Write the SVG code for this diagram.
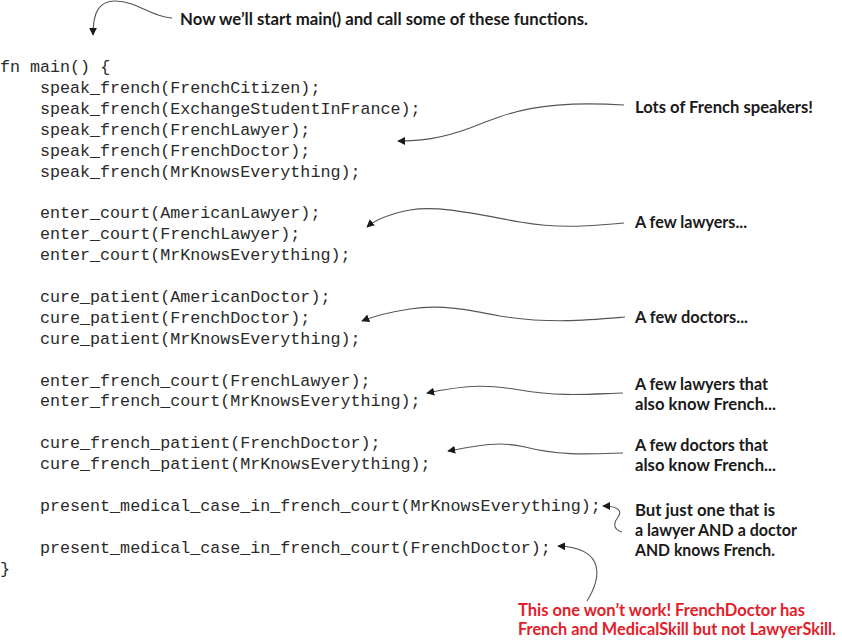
<svg xmlns="http://www.w3.org/2000/svg" width="842" height="644" viewBox="0 0 842 644">
<defs>
<marker id="ah" viewBox="0 0 10 10" refX="9" refY="5" markerWidth="8" markerHeight="8" markerUnits="userSpaceOnUse" orient="auto">
<path d="M0,0 L10,5 L0,10 Z" fill="#1a1a1a"/>
</marker>
<style>
.code{font-family:"Liberation Mono","DejaVu Sans Mono",monospace;font-size:16.7px;fill:#2a2a2a;white-space:pre}
.note{font-family:Lato,"Open Sans",sans-serif;font-weight:bold;font-size:17.5px;fill:#1a1a1a}
.red{fill:#e3202a;font-size:16.5px}
.conn{fill:none;stroke:#555;stroke-width:1.1;marker-end:url(#ah)}
</style>
</defs>
<rect width="842" height="644" fill="#ffffff"/>
<g id="code">
<text class="code" x="0" y="72">fn main() {</text>
<text class="code" x="40" y="92.9">speak_french(FrenchCitizen);</text>
<text class="code" x="40" y="113.8">speak_french(ExchangeStudentInFrance);</text>
<text class="code" x="40" y="134.7">speak_french(FrenchLawyer);</text>
<text class="code" x="40" y="155.6">speak_french(FrenchDoctor);</text>
<text class="code" x="40" y="176.5">speak_french(MrKnowsEverything);</text>
<text class="code" x="40" y="218.3">enter_court(AmericanLawyer);</text>
<text class="code" x="40" y="239.2">enter_court(FrenchLawyer);</text>
<text class="code" x="40" y="260.1">enter_court(MrKnowsEverything);</text>
<text class="code" x="40" y="301.9">cure_patient(AmericanDoctor);</text>
<text class="code" x="40" y="322.8">cure_patient(FrenchDoctor);</text>
<text class="code" x="40" y="343.7">cure_patient(MrKnowsEverything);</text>
<text class="code" x="40" y="385.5">enter_french_court(FrenchLawyer);</text>
<text class="code" x="40" y="406.4">enter_french_court(MrKnowsEverything);</text>
<text class="code" x="40" y="448.2">cure_french_patient(FrenchDoctor);</text>
<text class="code" x="40" y="469.1">cure_french_patient(MrKnowsEverything);</text>
<text class="code" x="40" y="510.9">present_medical_case_in_french_court(MrKnowsEverything);</text>
<text class="code" x="40" y="552.7">present_medical_case_in_french_court(FrenchDoctor);</text>
<text class="code" x="0" y="573.6">}</text>
</g>
<g id="note-main">
<text class="note" x="180" y="25" textLength="408" lengthAdjust="spacingAndGlyphs">Now we’ll start main() and call some of these functions.</text>
</g>
<g id="note-french">
<text class="note" x="635" y="113" textLength="178" lengthAdjust="spacingAndGlyphs">Lots of French speakers!</text>
</g>
<g id="note-lawyers">
<text class="note" x="635" y="228" textLength="112" lengthAdjust="spacingAndGlyphs">A few lawyers...</text>
</g>
<g id="note-doctors">
<text class="note" x="635" y="323" textLength="113" lengthAdjust="spacingAndGlyphs">A few doctors...</text>
</g>
<g id="note-french-lawyers">
<text class="note" x="635" y="390" textLength="133" lengthAdjust="spacingAndGlyphs">A few lawyers that</text>
<text class="note" x="635" y="409.5" textLength="141" lengthAdjust="spacingAndGlyphs">also know French...</text>
</g>
<g id="note-french-doctors">
<text class="note" x="635" y="451" textLength="133" lengthAdjust="spacingAndGlyphs">A few doctors that</text>
<text class="note" x="635" y="470.5" textLength="141" lengthAdjust="spacingAndGlyphs">also know French...</text>
</g>
<g id="note-one">
<text class="note" x="635" y="516" textLength="140" lengthAdjust="spacingAndGlyphs">But just one that is</text>
<text class="note" x="635" y="536" textLength="162" lengthAdjust="spacingAndGlyphs">a lawyer AND a doctor</text>
<text class="note" x="635" y="556" textLength="140" lengthAdjust="spacingAndGlyphs">AND knows French.</text>
</g>
<g id="note-fail">
<text class="note red" x="518" y="615.5" textLength="287" lengthAdjust="spacingAndGlyphs">This one won’t work! FrenchDoctor has</text>
<text class="note red" x="518" y="634.5" textLength="318" lengthAdjust="spacingAndGlyphs">French and MedicalSkill but not LawyerSkill.</text>
</g>
<g id="connectors">
<path class="conn" d="M172,18 C150,17 138,1 115,1 C99,1 93,12 93,35"/>
<path class="conn" d="M624,105 C540,100 510,112 470,128 C440,139 420,141 398,141"/>
<path class="conn" d="M624,223 C590,226 560,229 520,222 C480,215 440,205 410,210 C390,214 375,220 367,227"/>
<path class="conn" d="M625,317 C590,320 550,324 500,316 C470,310 440,304 410,309 C390,312 372,317 362,321"/>
<path class="conn" d="M623,393 C590,394 560,397 520,390 C490,385 470,384 427,393"/>
<path class="conn" d="M623,453 C590,454 560,456 525,447 C500,441 480,445 448,451"/>
<path class="conn" d="M622,532 C612,529 614,522 618,517 C622,512 620,506 603,506"/>
<path class="conn" d="M587,601 C600,580 608,548 558,546"/>
</g>
</svg>
